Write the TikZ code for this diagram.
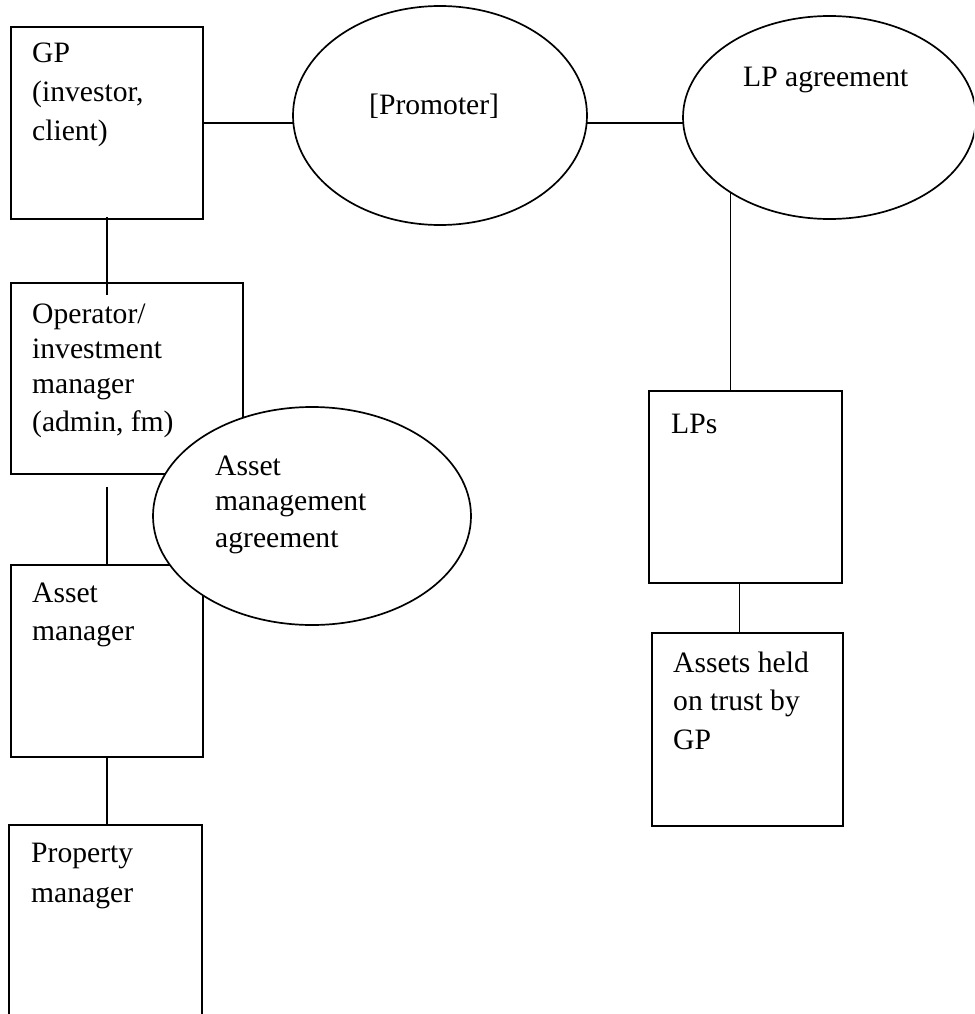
\documentclass[tikz,border=0pt]{standalone}
\usepackage{fontspec}
\setmainfont{Liberation Serif}
\usetikzlibrary{shapes.geometric}
\begin{document}
\begin{tikzpicture}[x=1pt,y=-1pt,
  box/.style={draw, line width=1.7pt, rectangle, inner sep=0pt, outer sep=0pt, anchor=north west},
  oval/.style={draw, line width=1.7pt, ellipse, inner sep=0pt, outer sep=0pt},
  conn/.style={line width=1.7pt},
  txt/.style={anchor=base west, inner sep=0pt, font=\fontsize{29.6}{34}\selectfont}]
\useasboundingbox (0,0) rectangle (974,1014);
\clip (0,0) rectangle (974,1014);
% boxes
\node[box, minimum width=192, minimum height=192] (gp) at (11,27) {};
\node[box, minimum width=232, minimum height=191] (op) at (11,283) {};
\node[box, minimum width=192, minimum height=192] (am) at (11,565) {};
\node[box, minimum width=193, minimum height=230] (pm) at (9,825) {};
\node[box, minimum width=193, minimum height=192] (lps) at (649,391) {};
\node[box, minimum width=191, minimum height=193] (assets) at (652,633) {};
% ellipses
\node[oval, minimum width=294, minimum height=219] (prom) at (440,115.5) {};
\node[oval, minimum width=293, minimum height=203] (lpa) at (829.5,117.5) {};
% connectors
\draw[conn] (gp.east) -- (gp.east -| prom.west);
\draw[conn] (prom.east |- gp.east) -- (lpa.west |- gp.east);
\draw[conn] ([yshift=2pt]gp.south) -- ([yshift=-12pt]gp.south |- op.north);
\draw[conn] ([yshift=-13pt]op.south -| am.north) -- (am.north);
\draw[conn] (am.south) -- (am.south |- pm.north);
\draw[conn] (lpa.217.9) -- (lpa.217.9 |- lps.north);
\draw[conn] ([xshift=-6pt]lps.south) -- ([xshift=-6pt]lps.south |- assets.north);
% texts
\node[txt] (gpt1) at (32,63) {GP};
\node[txt] (gpt2) at (32,102) {(investor,};
\node[txt] (gpt3) at (32,140) {client)};
\node[txt] (opt1) at (32,323) {Operator/};
\node[txt] (opt2) at (32,358) {investment};
\node[txt] (opt3) at (32,393) {manager};
\node[txt] (opt4) at (32,431) {(admin, fm)};
\node[txt] (amt1) at (32,602) {Asset};
\node[txt] (amt2) at (32,640) {manager};
\node[txt] (pmt1) at (31,862) {Property};
\node[txt] (pmt2) at (31,902) {manager};
\node[txt] (lpst) at (671,433) {LPs};
\node[txt] (ast1) at (673,672) {Assets held};
\node[txt] (ast2) at (673,710) {on trust by};
\node[txt] (ast3) at (673,749) {GP};
\node[txt] (promt) at (369,115) {[Promoter]};
\node[txt] (lpat) at (743,87) {LP agreement};
% asset management agreement ellipse on top
\node[oval, fill=white, minimum width=318, minimum height=218] (ama) at (312,516) {};
\node[txt] (amat1) at (215,475) {Asset};
\node[txt] (amat2) at (215,510) {management};
\node[txt] (amat3) at (215,547) {agreement};
\end{tikzpicture}
\end{document}
